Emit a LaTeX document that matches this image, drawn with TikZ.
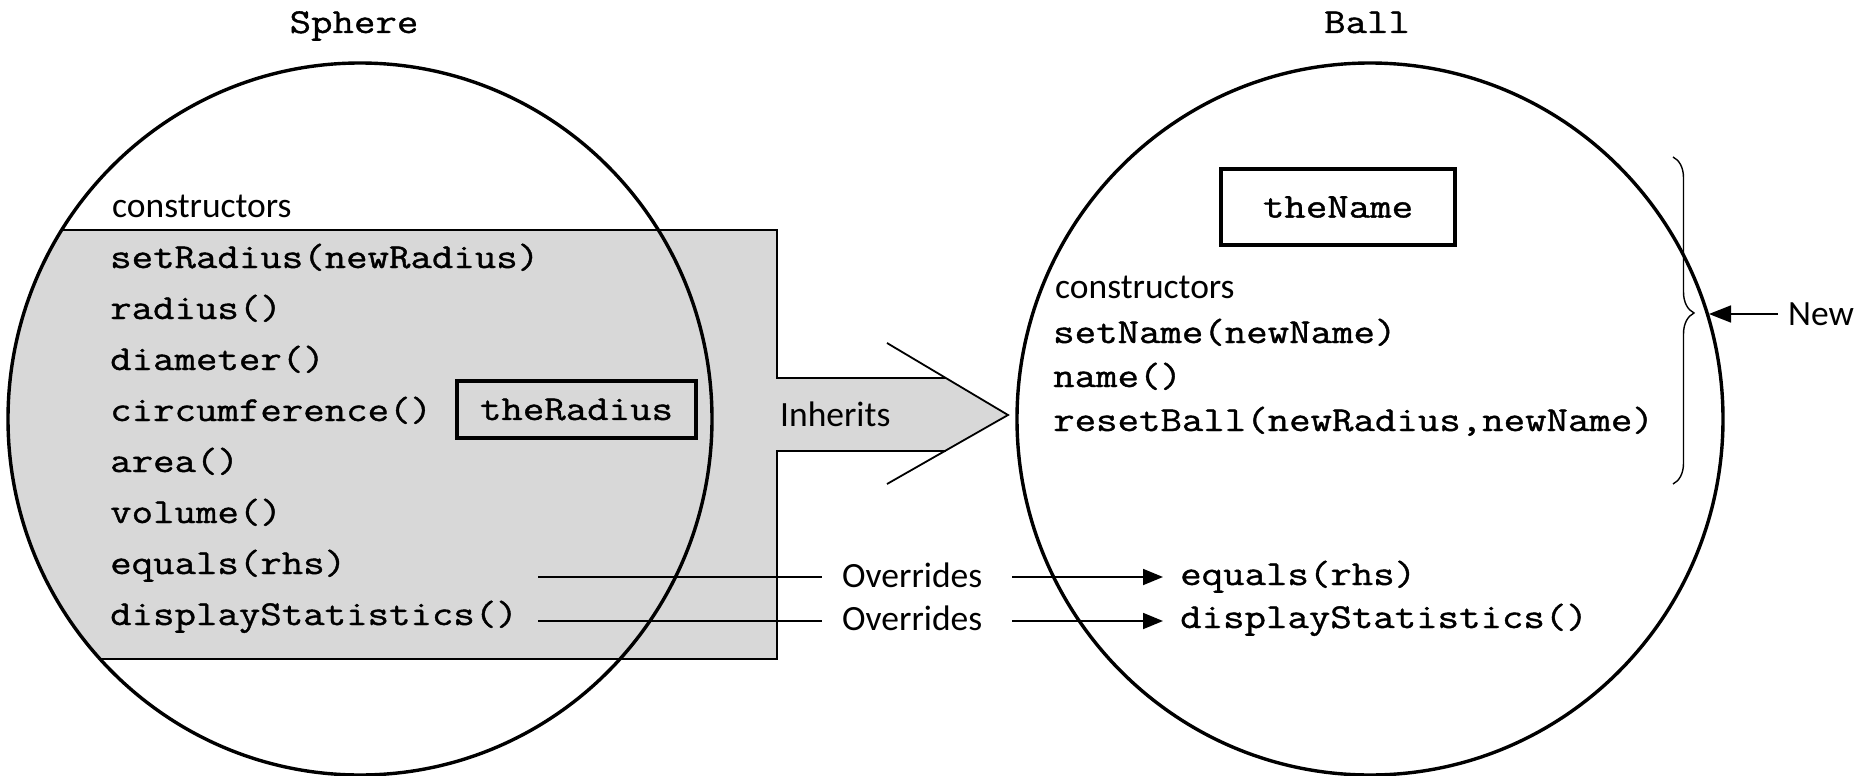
\documentclass[tikz,border=0pt]{standalone}
\usepackage{fontspec}
\setmainfont{Carlito}
\newfontfamily\codefont[FakeStretch=1.19, FakeBold=1.1]{Latin Modern Mono}
\usetikzlibrary{arrows.meta,decorations.pathreplacing,calc}
\definecolor{inhgray}{RGB}{216,216,216}
\begin{document}
\begin{tikzpicture}[x=1pt,y=-1pt,
  code/.style={font=\codefont\fontsize{35}{40}\selectfont, inner sep=0pt, anchor=base west},
  codec/.style={font=\codefont\fontsize{35}{40}\selectfont, inner sep=0pt, anchor=base},
  sans/.style={font=\fontsize{35.5}{40}\selectfont, inner sep=0pt, anchor=base west},
  thinl/.style={line width=1.8pt},
  bigl/.style={line width=3.4pt},
  boxl/.style={draw, line width=3.2pt, font=\codefont\fontsize{35}{40}\selectfont, inner sep=0pt},
  ovarrow/.style={line width=1.8pt, -{Triangle[length=20pt,width=16pt]}}]
\useasboundingbox (0,0) rectangle (1872,776);

% gray inheritance region
\begin{scope}
  \clip (360,419) ellipse [x radius=352, y radius=356];
  \fill[inhgray] (0,230) rectangle (777,659);
  \draw[thinl] (0,230) -- (777,230);
  \draw[thinl] (0,659) -- (777,659);
\end{scope}
\fill[inhgray] (360,230) -- (777,230) -- (777,378) -- (946,378) -- (1008,415)
  -- (946,451) -- (777,451) -- (777,659) -- (360,659) -- cycle;
\draw[thinl] (360,230) -- (777,230) -- (777,378) -- (946,378);
\draw[thinl] (360,659) -- (777,659) -- (777,451) -- (946,451);
\draw[thinl] (887,343) -- (1008,415) -- (887,484);
\node[sans] (inh) at (780,426) {Inherits};

% ellipses
\draw[bigl] (360,419) ellipse [x radius=352, y radius=356];
\draw[bigl] (1370,419) ellipse [x radius=353, y radius=356];

% titles
\node[codec] (sph) at (354,33) {Sphere};
\node[codec] (ball) at (1367,33) {Ball};

% Sphere members
\node[sans] (sc) at (112,217) {constructors};
\node[code] (s1) at (110,268) {setRadius(newRadius)};
\node[code] (s2) at (110,319) {radius()};
\node[code] (s3) at (110,370) {diameter()};
\node[code] (s4) at (110,421) {circumference()};
\node[code] (s5) at (110,472) {area()};
\node[code] (s6) at (110,523) {volume()};
\node[code] (s7) at (110,574) {equals(rhs)};
\node[code] (s8) at (110,625) {displayStatistics()};
\node[boxl, minimum width=239pt, minimum height=57pt] (rbox) at (576.5,409.5) {theRadius};

% Ball members
\node[boxl, minimum width=234pt, minimum height=76pt] (nbox) at (1338,207) {theName};
\node[sans] (bc) at (1055,298) {constructors};
\node[code] (b1) at (1053,343) {setName(newName)};
\node[code] (b2) at (1053,387) {name()};
\node[code] (b3) at (1053,431) {resetBall(newRadius,newName)};
\node[code] (b4) at (1180,585) {equals(rhs)};
\node[code] (b5) at (1180,628) {displayStatistics()};

% overrides
\coordinate (o1) at (538,577);
\coordinate (o2) at (538,621);
\node[sans] (ov1) at (842,587) {Overrides};
\node[sans] (ov2) at (842,630) {Overrides};
\draw[thinl] (o1) -- ($(ov1.west |- o1)+(-20,0)$);
\draw[thinl] (o2) -- ($(ov2.west |- o2)+(-20,0)$);
\draw[ovarrow, shorten >=17pt] ($(ov1.east |- o1)+(30,0)$) -- (b4.west |- o1);
\draw[ovarrow, shorten >=17pt] ($(ov2.east |- o2)+(30,0)$) -- (b5.west |- o2);

% brace and New
\draw[line width=1.4pt, decorate, decoration={brace, amplitude=21pt, aspect=0.477}] (1673,157) -- (1673,484);
\coordinate (bt) at (1695,314);
\node[sans] (new) at (1788,325) {New};
\draw[line width=1.8pt, -{Triangle[length=22pt,width=17pt]}, shorten >=14pt] ($(new.west |- bt)+(-10,0)$) -- (bt);
\end{tikzpicture}
\end{document}
